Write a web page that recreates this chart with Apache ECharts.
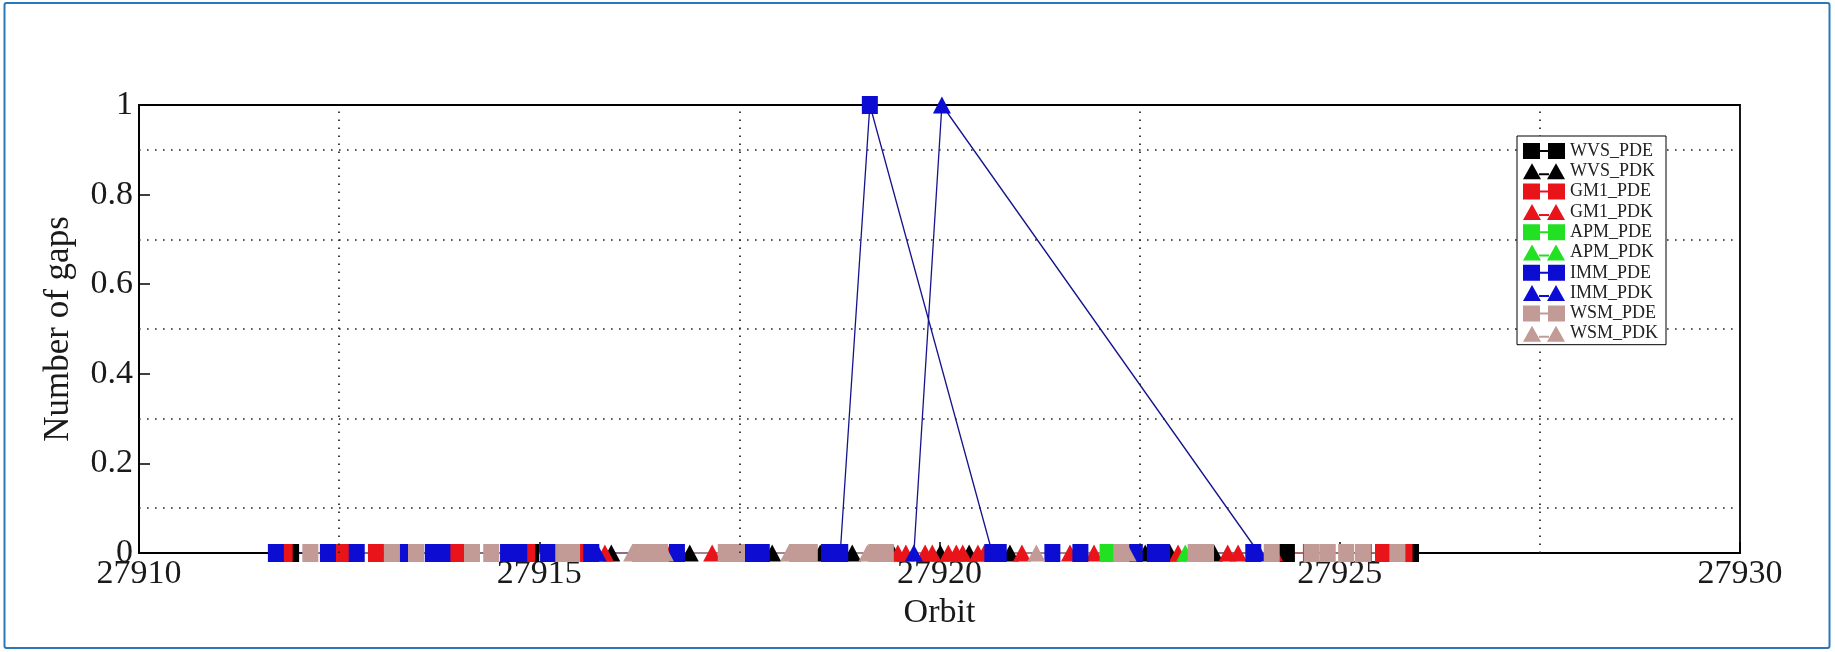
<!DOCTYPE html>
<html>
<head>
<meta charset="utf-8">
<script src="https://cdn.jsdelivr.net/npm/echarts@6/dist/echarts.min.js"></script>
<style>
  html, body { margin: 0; padding: 0; background: #fff; }
  #chart { width: 1835px; height: 652px; }
</style>
</head>
<body>
<div id="chart"></div>
<script>
// ---- data ----
const SERIES_NAMES = ['WVS_PDE','WVS_PDK','GM1_PDE','GM1_PDK','APM_PDE','APM_PDK','IMM_PDE','IMM_PDK','WSM_PDE','WSM_PDK'];

const WVS_PDE_orbit = [27911.90, 27914.90, 27924.34, 27925.89];
const WVS_PDE_gaps  = [0, 0, 0, 0];

const WVS_PDK_orbit = [27915.90, 27916.88, 27917.36, 27917.91, 27918.51, 27918.91, 27919.42, 27920.01, 27920.37, 27920.88, 27922.57, 27922.88, 27923.43];
const WVS_PDK_gaps  = [0, 0, 0, 0, 0, 0, 0, 0, 0, 0, 0, 0, 0];

const GM1_PDE_orbit = [27911.82, 27912.54, 27912.96, 27913.97, 27914.85, 27915.46, 27924.64, 27925.30, 27925.54, 27925.81];
const GM1_PDE_gaps  = [0, 0, 0, 0, 0, 0, 0, 0, 0, 0];

const GM1_PDK_orbit = [27915.82, 27916.63, 27917.16, 27919.48, 27919.58, 27919.82, 27919.91, 27920.11, 27920.21, 27920.29, 27920.48, 27920.56, 27921.03, 27921.63, 27921.93, 27922.98, 27923.60, 27923.73, 27924.18];
const GM1_PDK_gaps  = [0, 0, 0, 0, 0, 0, 0, 0, 0, 0, 0, 0, 0, 0, 0, 0, 0, 0, 0];

const APM_PDE_orbit = [27922.10];
const APM_PDE_gaps  = [0];

const APM_PDK_orbit = [27923.07];
const APM_PDK_gaps  = [0];

const IMM_PDE_orbit = [27911.71, 27912.36, 27912.72, 27913.30, 27913.67, 27913.79, 27914.61, 27914.75, 27915.11, 27915.65, 27916.72, 27917.67, 27917.78, 27918.62, 27918.76, 27919.13, 27920.66, 27920.74, 27921.41, 27921.76, 27922.44, 27922.69, 27922.78, 27923.92];
const IMM_PDE_gaps  = [0, 0, 0, 0, 0, 0, 0, 0, 0, 0, 0, 0, 0, 0, 0, 1, 0, 0, 0, 0, 0, 0, 0, 0];

const IMM_PDK_orbit = [27915.73, 27919.68, 27920.03, 27923.99];
const IMM_PDK_gaps  = [0, 0, 1, 0];

const WSM_PDE_orbit = [27912.14, 27913.16, 27913.46, 27914.16, 27914.40, 27915.30, 27915.41, 27916.26, 27916.38, 27916.51, 27917.33, 27917.47, 27918.22, 27918.38, 27919.21, 27919.33, 27922.27, 27923.20, 27923.33, 27924.15, 27924.65, 27924.85, 27925.08, 27925.29, 27925.72];
const WSM_PDE_gaps  = [0, 0, 0, 0, 0, 0, 0, 0, 0, 0, 0, 0, 0, 0, 0, 0, 0, 0, 0, 0, 0, 0, 0, 0, 0];

const WSM_PDK_orbit = [27916.16, 27916.57, 27918.12, 27919.10, 27921.21, 27922.35];
const WSM_PDK_gaps  = [0, 0, 0, 0, 0, 0];

// grid line positions (dotted) as drawn in the reference
const GRID_X = [27912.5, 27917.5, 27922.5, 27927.5];
const GRID_Y = [0.1, 0.3, 0.5, 0.7, 0.9];

// ---- styling ----
const ORBITS = [WVS_PDE_orbit, WVS_PDK_orbit, GM1_PDE_orbit, GM1_PDK_orbit, APM_PDE_orbit, APM_PDK_orbit, IMM_PDE_orbit, IMM_PDK_orbit, WSM_PDE_orbit, WSM_PDK_orbit];
const GAPS   = [WVS_PDE_gaps, WVS_PDK_gaps, GM1_PDE_gaps, GM1_PDK_gaps, APM_PDE_gaps, APM_PDK_gaps, IMM_PDE_gaps, IMM_PDK_gaps, WSM_PDE_gaps, WSM_PDK_gaps];
const COLORS = ['#000000','#000000','#e8141a','#e8141a','#22e022','#22e022','#0c0cd2','#0c0cd2','#c29a96','#c29a96'];
const LINE_COLORS = ['#000000','#000000','#c01010','#c01010','#22c022','#22c022','#14148c','#14148c','#b08a86','#b08a86'];

const FONT = '"Liberation Serif", "Times New Roman", serif';
const SQ_ICON  = 'path://M0 0H17V16H0Z M17 7H25V9H17Z M25 0H42V16H25Z';
const TRI_ICON = 'path://M0 16L9 0L18 16Z M16 10H26V12H16Z M24 16L33 0L42 16Z';

const series = SERIES_NAMES.map((name, i) => {
  const isSq = name.endsWith('PDE');
  const s = {
    name,
    type: 'line',
    data: ORBITS[i].map((x, k) => [x, GAPS[i][k]]),
    symbol: isSq ? 'rect' : 'triangle',
    symbolSize: isSq ? [16, 18] : [18, 17],
    showSymbol: true,
    showAllSymbol: true,
    clip: false,
    itemStyle: { color: COLORS[i] },
    lineStyle: { color: LINE_COLORS[i], width: 1.3 },
    emphasis: { disabled: true },
    animation: false,
    z: 3
  };
  if (i === 0) {
    s.markLine = {
      silent: true,
      symbol: ['none', 'none'],
      label: { show: false },
      animation: false,
      lineStyle: { type: [1.6, 6.4], color: '#222', width: 1.7 },
      data: GRID_Y.map(v => ({ yAxis: v })).concat(GRID_X.map(v => ({ xAxis: v })))
    };
  }
  return s;
});

const chart = echarts.init(document.getElementById('chart'), null, { renderer: 'canvas' });
chart.setOption({
  animation: false,
  backgroundColor: '#ffffff',
  grid: {
    left: 139, right: 95, top: 105, bottom: 99,
    show: true, borderColor: '#000', borderWidth: 1.8, backgroundColor: '#fff'
  },
  xAxis: {
    type: 'value',
    min: 27910, max: 27930, interval: 5,
    name: 'Orbit',
    nameLocation: 'middle',
    nameGap: 36,
    nameTextStyle: { fontFamily: FONT, fontSize: 34, color: '#1a1a1a' },
    axisLine: { show: true, onZero: false, lineStyle: { color: '#000', width: 1.8 } },
    axisTick: { show: true, inside: true, length: 11, lineStyle: { color: '#000', width: 1.5 } },
    axisLabel: { fontFamily: FONT, fontSize: 34, color: '#1a1a1a', margin: 4, formatter: v => String(v) },
    splitLine: { show: false }
  },
  yAxis: {
    type: 'value',
    min: 0, max: 1, interval: 0.2,
    name: 'Number of gaps',
    nameLocation: 'middle',
    nameGap: 63,
    nameTextStyle: { fontFamily: FONT, fontSize: 35, color: '#1a1a1a' },
    axisLine: { show: true, lineStyle: { color: '#000', width: 1.8 } },
    axisTick: { show: true, inside: true, length: 11, lineStyle: { color: '#000', width: 1.5 } },
    axisLabel: { fontFamily: FONT, fontSize: 34, color: '#1a1a1a', margin: 6, formatter: v => String(+v.toFixed(1)) },
    splitLine: { show: false }
  },
  legend: {
    orient: 'vertical',
    left: 1517, top: 136,
    padding: [6, 8, 2, 6],
    itemWidth: 42, itemHeight: 16, itemGap: 2.3,
    backgroundColor: '#fff',
    borderColor: '#000', borderWidth: 1,
    borderRadius: 0,
    selectedMode: false,
    z: 20,
    textStyle: { fontFamily: FONT, fontSize: 18, lineHeight: 16, color: '#222' },
    data: SERIES_NAMES.map(n => ({ name: n, icon: n.endsWith('PDE') ? SQ_ICON : TRI_ICON }))
  },
  graphic: [{
    type: 'rect',
    silent: true,
    shape: { x: 4.5, y: 3, width: 1825, height: 645, r: 2 },
    style: { fill: null, stroke: '#2b78b8', lineWidth: 2 },
    z: 100
  }],
  series
});
</script>
</body>
</html>
